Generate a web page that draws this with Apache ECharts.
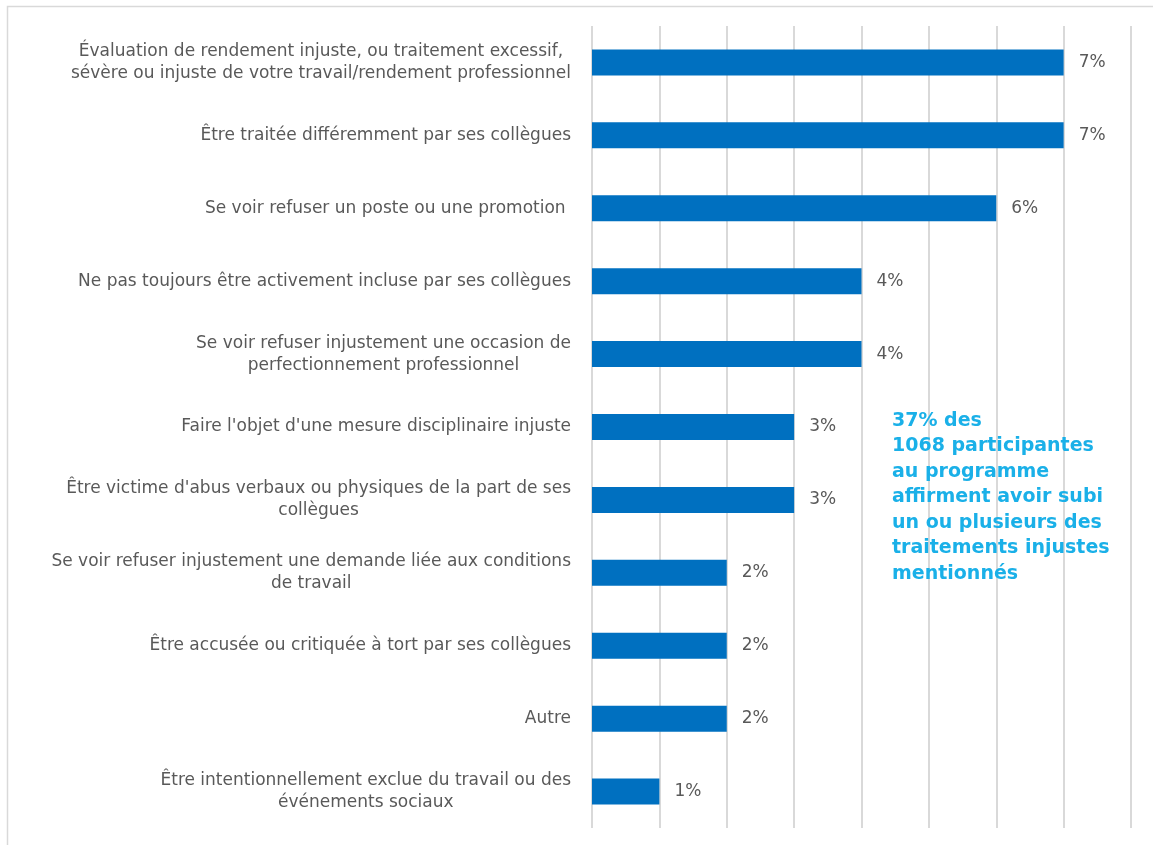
<!DOCTYPE html>
<html>
<head>
<meta charset="utf-8">
<style>
  html, body { margin: 0; padding: 0; background: #ffffff; }
  #chart { width: 1153px; height: 845px; }
</style>
<script src="https://cdn.jsdelivr.net/npm/echarts@6/dist/echarts.min.js"></script>
</head>
<body>
<div id="chart"></div>
<script>
// Categories (top to bottom), with explicit line breaks as laid out
const categories = [
  "Évaluation de rendement injuste, ou traitement excessif,\nsévère ou injuste de votre travail/rendement professionnel",
  "Être traitée différemment par ses collègues",
  "Se voir refuser un poste ou une promotion ",
  "Ne pas toujours être activement incluse par ses collègues",
  "Se voir refuser injustement une occasion de\nperfectionnement professionnel",
  "Faire l'objet d'une mesure disciplinaire injuste",
  "Être victime d'abus verbaux ou physiques de la part de ses\ncollègues",
  "Se voir refuser injustement une demande liée aux conditions\nde travail",
  "Être accusée ou critiquée à tort par ses collègues",
  "Autre",
  "Être intentionnellement exclue du travail ou des\névénements sociaux"
];

// Share of participants (%)
const values = [7, 7, 6, 4, 4, 3, 3, 2, 2, 2, 1];

// Summary note shown beside the bars
const noteLines = [
  "37% des",
  "1068 participantes",
  "au programme",
  "affirment avoir subi",
  "un ou plusieurs des",
  "traitements injustes",
  "mentionnés"
];

const FONT = "'DejaVu Sans', 'Noto Sans', sans-serif";
const chart = echarts.init(document.getElementById('chart'), null, { renderer: 'canvas' });

chart.setOption({
  backgroundColor: '#ffffff',
  animation: false,
  grid: { left: 592, right: 22, top: 26, bottom: 17, containLabel: false },
  xAxis: {
    type: 'value',
    min: 0,
    max: 8,
    interval: 1,
    axisLabel: { show: false },
    axisTick: { show: false },
    axisLine: { show: false },
    splitLine: { show: true, lineStyle: { color: '#d9d9d9', width: 2 } }
  },
  yAxis: {
    type: 'category',
    inverse: true,
    data: categories,
    axisLine: { show: false },
    axisTick: { show: false },
    axisLabel: {
      margin: 21,
      align: 'right',
      // each line centred within the right-aligned label block
      formatter: function (v) {
        return v.split('\n').map(function (s) { return '{c|' + s + '}'; }).join('\n');
      },
      rich: {
        c: {
          align: 'center',
          fontFamily: FONT,
          fontSize: 17,
          lineHeight: 22,
          color: '#595959'
        }
      }
    }
  },
  series: [{
    type: 'bar',
    data: values,
    barWidth: 26,
    itemStyle: { color: '#0070c0' },
    label: {
      show: true,
      position: 'right',
      distance: 15,
      formatter: '{c}%',
      fontFamily: FONT,
      fontSize: 17,
      color: '#595959'
    }
  }],
  graphic: [
    {
      type: 'rect',
      left: 5,
      top: 4,
      shape: { width: 1160, height: 860 },
      style: { fill: 'none', stroke: '#d9d9d9', lineWidth: 1.5 },
      silent: true,
      z: 100
    },
    {
      type: 'text',
      left: 892,
      top: 408,
      style: {
        text: noteLines.join('\n'),
        fontFamily: FONT,
        fontWeight: 'bold',
        fontSize: 19,
        lineHeight: 25.5,
        fill: '#1ab0e8'
      },
      z: 100
    }
  ]
});
</script>
</body>
</html>
